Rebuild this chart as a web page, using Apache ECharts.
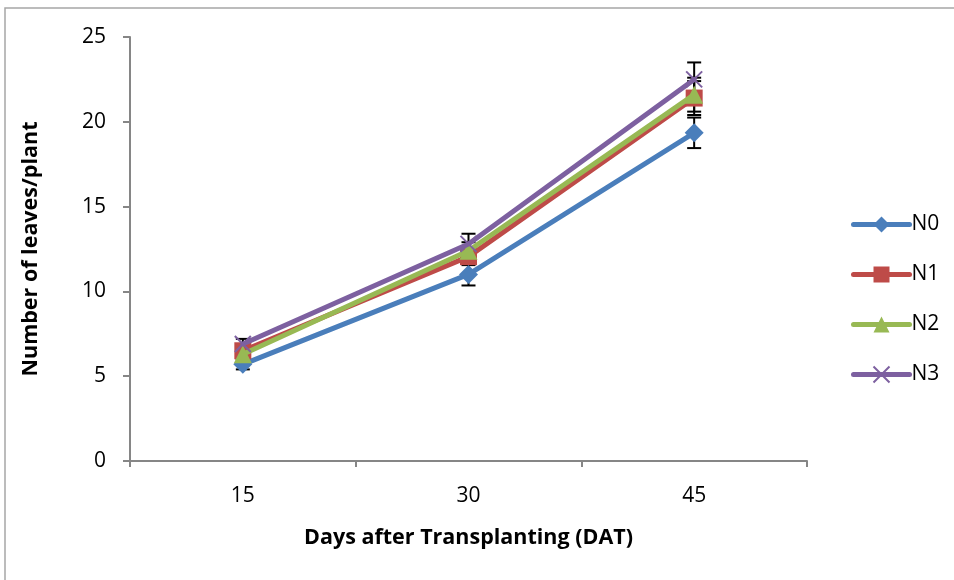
<!DOCTYPE html>
<html><head><meta charset="utf-8">
<script src="https://cdn.jsdelivr.net/npm/echarts@6/dist/echarts.min.js"></script>
<style>html,body{margin:0;padding:0;background:#fff}#c{width:954px;height:580px}</style>
</head><body><div id="c"></div>
<script>
const categories = ['15', '30', '45'];
const seriesNames = ['N0', 'N1', 'N2', 'N3'];
const N0 = [5.7, 11.0, 19.35];
const N1 = [6.5, 12.05, 21.4];
const N2 = [6.3, 12.4, 21.6];
const N3 = [6.9, 12.8, 22.5];
const N0err = [0.3, 0.65, 0.9];
const N1err = [0.3, 0.5, 1.0];
const N2err = [0.3, 0.5, 1.0];
const N3err = [0.3, 0.6, 1.0];
const yTicks = [0, 5, 10, 15, 20, 25];

const values = [N0, N1, N2, N3];
const errs = [N0err, N1err, N2err, N3err];
const colors = ['#4A7EBB', '#BE4B48', '#98B954', '#7D60A0'];
const symbols = ['diamond', 'rect', 'triangle', 'path://M0,0L10,10M10,0L0,10'];
const symSizes = [19, 17, 18, 16];
const FONT = '"Open Sans", sans-serif';

const chart = echarts.init(document.getElementById('c'));
const series = [];
values.forEach((vals, si) => {
  series.push({
    type: 'custom',
    name: seriesNames[si] + '_err',
    z: 1,
    silent: true,
    data: vals.map((v, i) => [i, v - errs[si][i], v + errs[si][i]]),
    renderItem: function (params, api) {
      const lo = api.coord([api.value(0), api.value(1)]);
      const hi = api.coord([api.value(0), api.value(2)]);
      const w = 7;
      const st = { stroke: '#000', lineWidth: 2 };
      return { type: 'group', children: [
        { type: 'line', shape: { x1: lo[0], y1: lo[1], x2: hi[0], y2: hi[1] }, style: st },
        { type: 'line', shape: { x1: lo[0] - w, y1: lo[1], x2: lo[0] + w, y2: lo[1] }, style: st },
        { type: 'line', shape: { x1: hi[0] - w, y1: hi[1], x2: hi[0] + w, y2: hi[1] }, style: st }
      ]};
    }
  });
});
values.forEach((vals, si) => {
  const isX = si === 3;
  series.push({
    type: 'line',
    name: seriesNames[si],
    z: 2 + si,
    data: vals,
    symbol: symbols[si],
    symbolSize: symSizes[si],
    showAllSymbol: true,
    lineStyle: { color: colors[si], width: 5, cap: 'round' },
    itemStyle: isX ? { color: colors[si], borderColor: colors[si], borderWidth: 2 } : { color: colors[si], borderWidth: 0 },
    emphasis: { disabled: true },
    animation: false
  });
});

chart.setOption({
  animation: false,
  backgroundColor: '#fff',
  graphic: [{ type: 'rect', shape: { x: 5, y: 8, width: 1000, height: 700 }, style: { fill: 'none', stroke: '#A6A6A6', lineWidth: 1.5 }, z: -1 }],
  grid: { left: 130, right: 147, top: 37, bottom: 119 },
  legend: {
    orient: 'vertical', left: 846, top: 209, itemWidth: 56, itemHeight: 20, itemGap: 29,
    data: seriesNames,
    lineStyle: { width: 5, cap: 'round' },
    textStyle: { fontFamily: FONT, fontSize: 21, color: '#000', padding: [0, 0, 0, -3] }
  },
  xAxis: {
    type: 'category', data: categories, boundaryGap: true,
    name: 'Days after Transplanting (DAT)', nameLocation: 'middle', nameGap: 66,
    nameTextStyle: { fontFamily: FONT, fontSize: 21.5, fontWeight: 'bold', color: '#000' },
    axisLine: { lineStyle: { color: '#868686', width: 2 } },
    axisTick: { show: true, length: 6, lineStyle: { color: '#868686', width: 2 } },
    axisLabel: { fontFamily: FONT, fontSize: 21, color: '#000', margin: 25 }
  },
  yAxis: {
    type: 'value', min: yTicks[0], max: yTicks[yTicks.length - 1], interval: 5,
    name: 'Number of leaves/plant', nameLocation: 'middle', nameGap: 88, nameRotate: 90,
    nameTextStyle: { fontFamily: FONT, fontSize: 21.5, fontWeight: 'bold', color: '#000' },
    axisLine: { show: true, lineStyle: { color: '#868686', width: 2 } },
    axisTick: { show: true, length: 7, lineStyle: { color: '#868686', width: 2 } },
    splitLine: { show: false },
    axisLabel: { fontFamily: FONT, fontSize: 21, color: '#000', margin: 24 }
  },
  series: series
});
</script></body></html>
